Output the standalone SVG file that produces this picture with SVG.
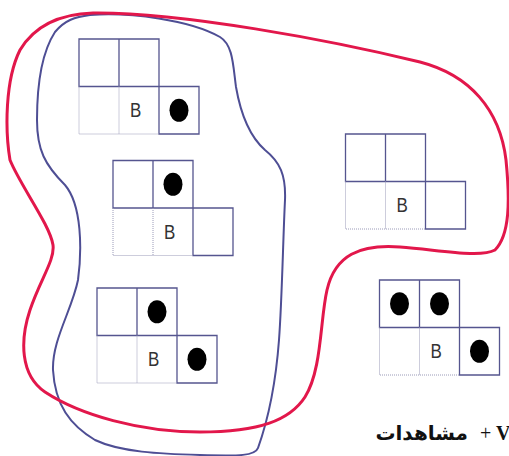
<svg xmlns="http://www.w3.org/2000/svg" xmlns:xlink="http://www.w3.org/1999/xlink" width="509" height="456" viewBox="0 0 509 456">
<style>
.solid{fill:none;stroke:#55558f;stroke-width:1.3}
.dot{fill:none;stroke:#9a9ab8;stroke-width:1;stroke-dasharray:1,1}
.ball{fill:#000}
.b{font-family:"Liberation Sans",Arial,sans-serif;font-size:17px;fill:#333}
.red{fill:none;stroke:#e2174b;stroke-width:3}
.blue{fill:none;stroke:#4e4e94;stroke-width:2}
.cap{font-family:"Liberation Serif","DejaVu Sans",serif;font-weight:bold;font-size:20px;fill:#111}
</style>
<defs>
<g id="lshape">
<path class="solid" d="M0,0H80V47.5H0ZM40,0V47.5M80,47.5H120V95H80ZM0,47.5H80"/>
<path class="dot" d="M0,47.5V95H80M40,47.5V95"/>
</g>
</defs>
<rect width="509" height="456" fill="#fff"/>
<g id="grid1" transform="translate(79,39)">
<use xlink:href="#lshape"/>
<text class="b" transform="translate(51,78) scale(1,1.15)">B</text>
<ellipse class="ball" cx="100" cy="71.25" rx="9.5" ry="11.5"/>
</g>
<g id="grid2" transform="translate(113,160.5)">
<use xlink:href="#lshape"/>
<text class="b" transform="translate(51,78) scale(1,1.15)">B</text>
<ellipse class="ball" cx="60" cy="23.75" rx="9.5" ry="11.5"/>
</g>
<g id="grid3" transform="translate(97,288)">
<use xlink:href="#lshape"/>
<text class="b" transform="translate(51,78) scale(1,1.15)">B</text>
<ellipse class="ball" cx="60" cy="23.75" rx="9.5" ry="11.5"/>
<ellipse class="ball" cx="100" cy="71.25" rx="9.5" ry="11.5"/>
</g>
<g id="grid4" transform="translate(345.5,134)">
<use xlink:href="#lshape"/>
<text class="b" transform="translate(51,78) scale(1,1.15)">B</text>
</g>
<g id="grid5" transform="translate(379.5,280)">
<use xlink:href="#lshape"/>
<text class="b" transform="translate(51,78) scale(1,1.15)">B</text>
<ellipse class="ball" cx="20" cy="23.75" rx="9.5" ry="11.5"/>
<ellipse class="ball" cx="60" cy="23.75" rx="9.5" ry="11.5"/>
<ellipse class="ball" cx="100" cy="71.25" rx="9.5" ry="11.5"/>
</g>
<g id="connectors">
<path id="blue-set" class="blue" d="M90,15C130,12 190,20 220,37C233,45 233,65 236,87C240,110 248,135 265,150C280,162 286,175 285,200C283,240 282,300 279,340C276,380 268,420 258,448C255,456 240,456 200,455C160,454 120,452 95,440C70,425 55,405 53,370C52,340 72,310 78,280C82,250 82,205 65,185C45,165 37,150 37,120C37,90 40,55 55,32C65,20 75,17 90,15Z"/>
<path id="red-set" class="red" d="M93,13C180,12 330,40 420,62C470,75 500,110 506,160C510,200 510,235 495,250C480,258 440,250 400,247C360,244 335,255 327,290C320,320 322,370 305,397C290,420 260,432 200,432C140,432 80,415 45,392C20,375 20,340 30,310C40,280 55,260 53,245C50,225 20,185 10,160C5,130 5,80 20,50C35,25 60,14 93,13Z"/>
</g>
<g id="caption">
<text class="cap" x="468" y="440" text-anchor="end" font-family="DejaVu Sans">مشاهدات</text>
<text class="cap" x="480" y="440"><tspan font-weight="normal">+</tspan> V</text>
</g>
</svg>
